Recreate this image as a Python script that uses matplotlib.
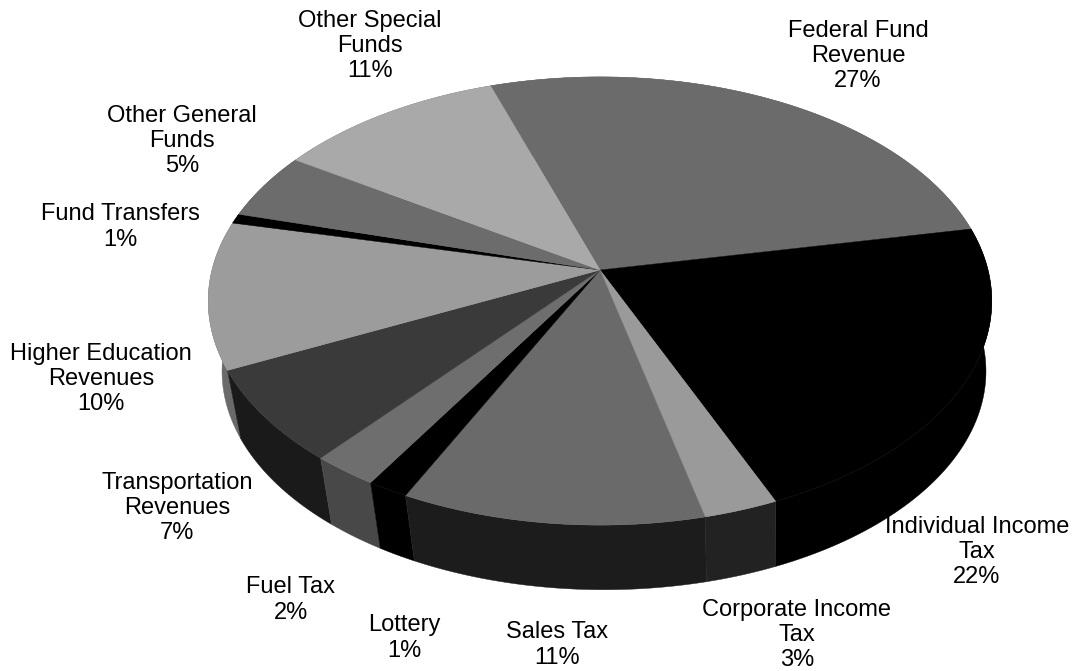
"""Perspective 3D pie of state revenue shares, drawn as filled polygons."""
import numpy as np
import matplotlib
matplotlib.use("Agg")
import matplotlib.pyplot as plt

labels = ["Federal Fund\nRevenue", "Individual Income\nTax", "Corporate Income\nTax",
          "Sales Tax", "Lottery", "Fuel Tax", "Transportation\nRevenues",
          "Higher Education\nRevenues", "Fund Transfers", "Other General\nFunds",
          "Other Special\nFunds"]
printed_pct = [27, 22, 3, 11, 1, 2, 7, 10, 1, 5, 11]
shares = [27.1, 21.6, 2.7, 11.0, 1.5, 2.4, 6.8, 10.6, 0.7, 4.8, 10.8]
top_grays = ["#6b6b6b", "#000000", "#9a9a9a", "#6a6a6a", "#000000", "#6e6e6e",
             "#3a3a3a", "#9c9c9c", "#000000", "#6c6c6c", "#a9a9a9"]
wall_grays = ["#6b6b6b", "#000000", "#222222", "#1c1c1c", "#000000", "#484848",
              "#1a1a1a", "#6a6a6a", "#000000", "#555555", "#777777"]
label_xy = [(858, 56), (977, 552), (797, 635), (557, 645), (404, 638), (291, 600),
            (177, 508), (101, 379), (120, 227), (182, 141), (370, 46)]

START_DEG = 108.6  # where the first slice starts, going clockwise
CX, CY = 600, 270  # pie centre in picture pixels
A, B, K = 388, 219.8, 0.1384  # half axes and perspective strength
DROP, SHRINK, NUDGE = 71, 0.975, 4  # lower disc offset


def project(theta, drop=0, scale=1.0, nudge=0):
    u, v = np.cos(theta), np.sin(theta)
    w = 1 / (1 + K * v)
    return CX + nudge + scale * A * u * w, CY + drop - scale * B * v * w


fig = plt.figure(figsize=(10.73, 6.71), dpi=100)
ax = fig.add_axes([0, 0, 1, 1])
ax.set_xlim(0, 1073)
ax.set_ylim(671, 0)
ax.axis("off")

edges = np.radians(START_DEG - 3.6 * np.cumsum([0] + shares))
for i in range(len(shares)):
    theta = np.linspace(edges[i], edges[i + 1], 120)
    x_top, y_top = project(theta)
    x_low, y_low = project(theta, DROP, SHRINK, NUDGE)

    # side wall first, back slices lowest
    back = np.sin(theta).mean()
    ax.fill(np.r_[x_top, x_low[::-1]], np.r_[y_top, y_low[::-1]],
            color=wall_grays[i], lw=0.3, zorder=2 - back)
    ax.fill(np.r_[CX, x_top], np.r_[CY, y_top], color=top_grays[i], lw=0.3, zorder=4)

for name, pct, (x, y) in zip(labels, printed_pct, label_xy):
    ax.text(x, y, f"{name}\n{pct}%", ha="center", va="center", fontsize=17,
            family="Liberation Sans", linespacing=1.18, color="#000000", zorder=5)

fig.savefig("out.png", dpi=100, facecolor="white")
